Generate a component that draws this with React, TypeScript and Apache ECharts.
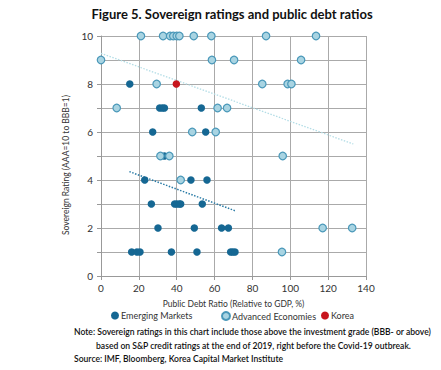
import React, { useEffect, useRef } from "react";
import * as echarts from "echarts";

const emergingX = [15.2, 31.0, 32.4, 33.5, 53.0, 27.3, 55.3, 33.5, 23.1, 47.5, 56.0, 26.6, 38.9, 40.1, 41.4, 42.1, 53.5, 30.1, 49.3, 63.7, 67.3, 16.2, 19.0, 20.6, 37.2, 50.7, 68.5, 69.6, 70.8];
const emergingY = [8, 7, 7, 7, 7, 6, 6, 5, 4, 4, 4, 3, 3, 3, 3, 3, 3, 2, 2, 2, 2, 1, 1, 1, 1, 1, 1, 1, 1];

const advancedX = [21.1, 32.8, 36.5, 38.2, 40.0, 41.4, 49.0, 58.3, 87.2, 113.6, 0, 58.6, 70.3, 105.7, 29.4, 85.2, 98.6, 100.6, 8.3, 61.6, 66.6, 48.2, 60.6, 31.4, 36.1, 96.0, 42.1, 117.1, 132.7, 95.6];
const advancedY = [10, 10, 10, 10, 10, 10, 10, 10, 10, 10, 9, 9, 9, 9, 8, 8, 8, 8, 7, 7, 7, 6, 6, 5, 5, 5, 4, 2, 2, 1];

const koreaX = [39.8];
const koreaY = [8];

const advancedTrendX = [0, 133.3];
const advancedTrendY = [9.28, 5.5];
const emergingTrendX = [15.0, 70.8];
const emergingTrendY = [4.35, 2.72];

const xTicks = [0, 20, 40, 60, 80, 100, 120, 140];
const yTicks = [0, 2, 4, 6, 8, 10];

const titleText = "Figure 5. Sovereign ratings and public debt ratios";
const noteLines = [
  "Note: Sovereign ratings in this chart include those above the investment grade (BBB- or above)",
  "based on S&P credit ratings at the end of 2019, right before the Covid-19 outbreak.",
  "Source: IMF, Bloomberg, Korea Capital Market Institute",
];

const zip = (xs: number[], ys: number[]) => xs.map((x, i) => [x, ys[i]]);

const FONT = "Lato";
const EM = "#156793";
const AD_FILL = "#a9d4e2";
const AD_BORDER = "#4a98b9";
const KO = "#c8151d";

export default function App() {
  const ref = useRef<HTMLDivElement>(null);
  useEffect(() => {
    document.body.style.margin = "0";
    const chart = echarts.init(ref.current!, null, { renderer: "svg" });
    const legendBase = {
      top: 311,
      itemWidth: 8,
      itemHeight: 8,
      icon: "circle",
      itemGap: 4,
      textStyle: { fontFamily: FONT, fontSize: 9, color: "#333", padding: [0, 0, 0, -3] },
      padding: 0,
    };
    const noteStyle = { fontFamily: FONT, fontWeight: 600, fontSize: 9, fill: "#111", textAlign: "left", textVerticalAlign: "middle" };
    chart.setOption({
      animation: false,
      textStyle: { fontFamily: FONT },
      grid: { left: 101, right: 75, top: 36, bottom: 94 },
      xAxis: {
        type: "value",
        min: 0,
        max: 140,
        interval: 20,
        name: "Public Debt Ratio (Relative to GDP, %)",
        nameLocation: "middle",
        nameGap: 23,
        nameTextStyle: { fontSize: 8.5, color: "#333", fontFamily: FONT },
        axisLine: { show: true, lineStyle: { color: "#999" } },
        axisTick: { show: true, length: 4, lineStyle: { color: "#999" } },
        axisLabel: { fontSize: 10, color: "#333", margin: 7, fontFamily: FONT, customValues: xTicks },
        splitLine: { show: true, lineStyle: { color: "#aaa", width: 1 } },
      },
      yAxis: {
        type: "value",
        min: 0,
        max: 10,
        interval: 1,
        name: "Sovereign Rating (AAA=10 to BBB=1)",
        nameLocation: "middle",
        nameGap: 25,
        nameRotate: 90,
        nameTextStyle: { fontSize: 8.5, color: "#333", fontFamily: FONT, padding: [0, 0, 0, -18] },
        axisLine: { show: true, lineStyle: { color: "#999" } },
        axisTick: { show: true, length: 4, lineStyle: { color: "#999" } },
        axisLabel: {
          fontSize: 10,
          color: "#333",
          margin: 8,
          fontFamily: FONT,
          formatter: (v: number) => (yTicks.indexOf(v) >= 0 ? String(v) : ""),
        },
        splitLine: { show: true, lineStyle: { color: "#aaa", width: 1 } },
      },
      legend: [
        { ...legendBase, left: 111, data: ["Emerging Markets"] },
        { ...legendBase, left: 221, data: ["Advanced Economies"] },
        { ...legendBase, left: 321, data: ["Korea"] },
      ],
      series: [
        {
          name: "Advanced trend",
          type: "line",
          data: zip(advancedTrendX, advancedTrendY),
          showSymbol: false,
          symbol: "none",
          lineStyle: { color: "#b3dde6", width: 1.3, type: [1.5, 1.5] },
          z: 1,
          silent: true,
        },
        {
          name: "Emerging trend",
          type: "line",
          data: zip(emergingTrendX, emergingTrendY),
          showSymbol: false,
          symbol: "none",
          lineStyle: { color: "#2a7ba6", width: 1.5, type: [1.5, 1.5] },
          z: 1,
          silent: true,
        },
        {
          name: "Emerging Markets",
          type: "scatter",
          data: zip(emergingX, emergingY),
          symbolSize: 7.5,
          itemStyle: { color: EM, opacity: 1 },
          z: 3,
        },
        {
          name: "Advanced Economies",
          type: "scatter",
          data: zip(advancedX, advancedY),
          symbolSize: 7.5,
          itemStyle: { color: AD_FILL, borderColor: AD_BORDER, borderWidth: 1.2, opacity: 1 },
          z: 3,
        },
        {
          name: "Korea",
          type: "scatter",
          data: zip(koreaX, koreaY),
          symbolSize: 7.5,
          itemStyle: { color: KO, opacity: 1 },
          z: 4,
        },
      ],
      graphic: [
        {
          type: "text",
          x: 232,
          y: 14,
          scaleX: 1.0,
          style: {
            text: titleText,
            fontFamily: FONT,
            fontWeight: "bold",
            fontSize: 13,
            fill: "#111",
            textAlign: "center",
            textVerticalAlign: "middle",
          },
        },
        { type: "text", x: 74, y: 331, scaleX: 0.955, style: { ...noteStyle, text: noteLines[0] } },
        { type: "text", x: 96, y: 345, scaleX: 0.955, style: { ...noteStyle, text: noteLines[1] } },
        { type: "text", x: 74, y: 358, scaleX: 0.955, style: { ...noteStyle, text: noteLines[2] } },
      ],
    });
    return () => chart.dispose();
  }, []);
  return <div ref={ref} style={{ width: 441, height: 370 }} />;
}
